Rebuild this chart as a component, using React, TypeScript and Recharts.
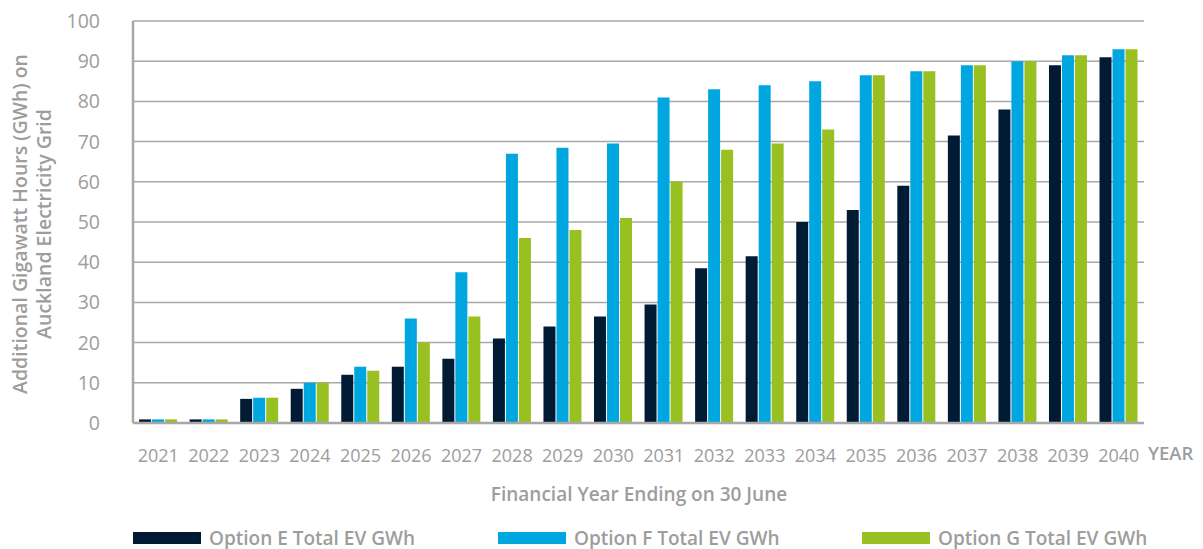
import { BarChart, Bar, XAxis, YAxis, CartesianGrid } from 'recharts'

const years = ['2021', '2022', '2023', '2024', '2025', '2026', '2027', '2028', '2029', '2030',
  '2031', '2032', '2033', '2034', '2035', '2036', '2037', '2038', '2039', '2040']
const optionE = [0.9, 0.9, 6, 8.5, 12, 14, 16, 21, 24, 26.5, 29.5, 38.5, 41.5, 50, 53, 59, 71.5, 78, 89, 91]
const optionF = [0.9, 0.9, 6.3, 10, 14, 26, 37.5, 67, 68.5, 69.5, 81, 83, 84, 85, 86.5, 87.5, 89, 90, 91.5, 93]
const optionG = [0.9, 0.9, 6.3, 10, 13, 20, 26.5, 46, 48, 51, 60, 68, 69.5, 73, 86.5, 87.5, 89, 90, 91.5, 93]
const yTicks = [0, 10, 20, 30, 40, 50, 60, 70, 80, 90, 100]

const seriesNames = ['Option E Total EV GWh', 'Option F Total EV GWh', 'Option G Total EV GWh']
const seriesKeys = ['e', 'f', 'g']
const seriesColors = ['#001b33', '#00a6e0', '#98c021']

const data = years.map((y, i) => ({ year: y, e: optionE[i], f: optionF[i], g: optionG[i] }))

const GRAY = '#9d9d9d'
const FONT = '"Open Sans", sans-serif'

function YLabel(props: any) {
  const { viewBox } = props
  const cy = viewBox.y + viewBox.height / 2 + 2
  return (
    <text
      transform={`translate(27, ${cy}) rotate(-90)`}
      textAnchor="middle"
      fill={GRAY}
      fontSize={19.5}
      fontWeight={600}
      fontFamily={FONT}
    >
      <tspan x={0} dy={0}>Additional Gigawatt Hours (GWh) on</tspan>
      <tspan x={0} dy={24}>Auckland Electricity Grid</tspan>
    </text>
  )
}

function XLabel(props: any) {
  const { viewBox } = props
  return (
    <g fontFamily={FONT} fill={GRAY}>
      <text x={viewBox.x + viewBox.width + 4} y={460} fontSize={18.5} fontWeight={600}>YEAR</text>
      <text x={639} y={501} textAnchor="middle" fontSize={19} fontWeight={600}>
        Financial Year Ending on 30 June
      </text>
    </g>
  )
}

const legendX = [133, 498, 862]

export default function App() {
  return (
    <div style={{ position: 'absolute', left: 0, top: 0, width: 1203, height: 549, background: '#fff' }}>
      <BarChart
        width={1203}
        height={549}
        data={data}
        margin={{ top: 21, right: 59, bottom: 86, left: 73 }}
        barCategoryGap="12%"
        barGap={1}
      >
        <CartesianGrid vertical={false} stroke="#a8a8a8" strokeWidth={1.5} />
        <XAxis
          dataKey="year"
          tickLine={false}
          axisLine={{ stroke: '#a8a8a8', strokeWidth: 2.5 }}
          tick={{ fill: GRAY, fontSize: 18, fontFamily: FONT }}
          tickMargin={20}
          height={40}
          interval={0}
          label={<XLabel />}
        />
        <YAxis
          domain={[0, 100]}
          ticks={yTicks}
          tickLine={false}
          axisLine={{ stroke: '#a8a8a8', strokeWidth: 2.5 }}
          tick={{ fill: GRAY, fontSize: 19.5, fontFamily: FONT }}
          tickMargin={27}
          width={60}
          interval={0}
          label={<YLabel />}
        />
        {seriesKeys.map((k, i) => (
          <Bar key={k} dataKey={k} name={seriesNames[i]} fill={seriesColors[i]} isAnimationActive={false} />
        ))}
      </BarChart>
      {seriesNames.map((n, i) => (
        <div
          key={n}
          style={{
            position: 'absolute', left: legendX[i], top: 525, display: 'flex', alignItems: 'center',
            fontFamily: FONT, fontSize: 19, fontWeight: 600, color: GRAY, whiteSpace: 'nowrap',
          }}
        >
          <span style={{ display: 'inline-block', width: 68, height: 12, background: seriesColors[i], marginRight: 8 }} />
          <span>{n}</span>
        </div>
      ))}
    </div>
  )
}
